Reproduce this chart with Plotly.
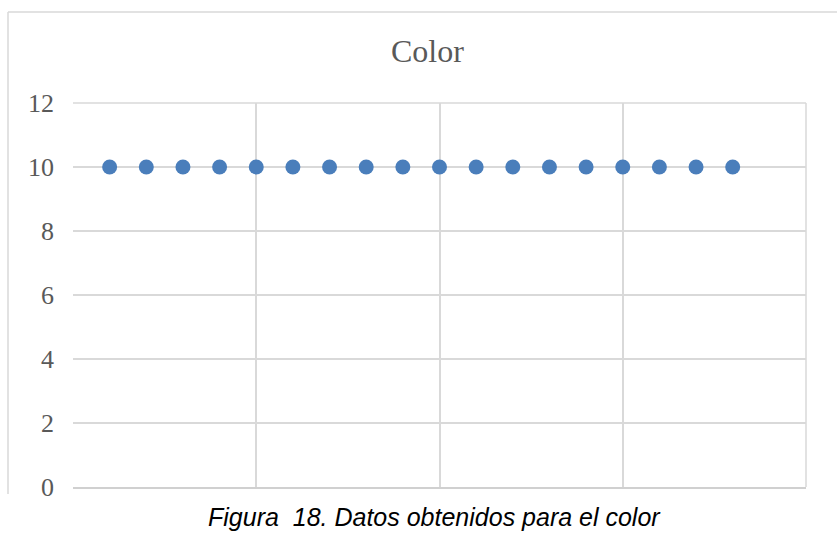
import plotly.graph_objects as go

# Data
muestras = [1, 2, 3, 4, 5, 6, 7, 8, 9, 10, 11, 12, 13, 14, 15, 16, 17, 18]
valores_color = [10, 10, 10, 10, 10, 10, 10, 10, 10, 10, 10, 10, 10, 10, 10, 10, 10, 10]
y_ticks = [0, 2, 4, 6, 8, 10, 12]

W, H = 837, 540
L, R, T, B = 73, 31, 103, 53
pw = W - L - R
ph = H - T - B

def px_x(p):
    return (p - L) / pw

def px_y(p):
    return (H - B - p) / ph

fig = go.Figure()
fig.add_trace(go.Scatter(
    x=muestras, y=valores_color, mode="markers",
    marker=dict(color="#4A7EBB", size=15),
    showlegend=False, cliponaxis=False,
))

grid = "#D9D9D9"
fig.update_layout(
    width=W, height=H,
    margin=dict(l=L, r=R, t=T, b=B),
    paper_bgcolor="white", plot_bgcolor="white",
    xaxis=dict(range=[0, 20], dtick=5, tick0=0, showgrid=True, gridcolor=grid, gridwidth=1.5,
               showticklabels=False, zeroline=False, showline=True, linecolor="#D0D0D0",
               linewidth=1.5, mirror=False, fixedrange=True),
    yaxis=dict(range=[0, 12], tickvals=y_ticks, showgrid=True, gridcolor=grid, gridwidth=1.5,
               zeroline=False, showline=False,
               tickfont=dict(family="Liberation Serif", size=26, color="#595959"),
               ticklabelstandoff=18, fixedrange=True),
    shapes=[
        dict(type="line", xref="paper", yref="paper", x0=px_x(8), x1=px_x(8), y0=px_y(12), y1=px_y(494),
             line=dict(color=grid, width=1.5)),
        dict(type="line", xref="paper", yref="paper", x0=px_x(8), x1=px_x(845), y0=px_y(12), y1=px_y(12),
             line=dict(color=grid, width=1.5)),
        dict(type="line", xref="paper", yref="paper", x0=0, x1=1, y0=1, y1=1,
             line=dict(color=grid, width=1.5)),
        dict(type="line", xref="paper", yref="paper", x0=1, x1=1, y0=0, y1=1,
             line=dict(color=grid, width=1.5)),
    ],
    annotations=[
        dict(text="Color", xref="paper", yref="paper", x=px_x(427), y=px_y(51),
             xanchor="center", yanchor="middle", showarrow=False,
             font=dict(family="Liberation Serif", size=32, color="#595959")),
        dict(text="<i>Figura  18. Datos obtenidos para el color</i>", xref="paper", yref="paper",
             x=px_x(434), y=px_y(517), xanchor="center", yanchor="middle", showarrow=False,
             font=dict(family="Liberation Sans", size=25, color="black")),
    ],
)

fig.write_html("out.html")
